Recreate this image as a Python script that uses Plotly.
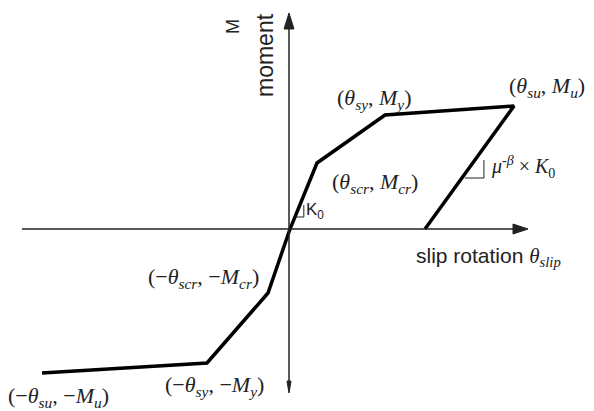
import plotly.graph_objects as go

# slip rotation / moment (origin at axis crossing, 1 unit ~ 1 px)
theta = [-248, -83, -22, 0, 27, 95, 224, 135]
moment = [-144, -134, -64, 0, 66, 114, 123, 0]

# label -> (index of point, xshift, yshift) ; text uses plotly html
point_labels = [
    ("(<i>θ<sub>sy</sub></i>, <i>M<sub>y</sub></i>)", 5, -11, 16, "center"),
    ("(<i>θ<sub>su</sub></i>, <i>M<sub>u</sub></i>)", 6, 33, 19, "center"),
    ("(<i>θ<sub>scr</sub></i>, <i>M<sub>cr</sub></i>)", 4, 58, -20, "center"),
    ("(−<i>θ<sub>scr</sub></i>, −<i>M<sub>cr</sub></i>)", 2, -65, 15, "center"),
    ("(−<i>θ<sub>sy</sub></i>, −<i>M<sub>y</sub></i>)", 1, 7, -23, "center"),
    ("(−<i>θ<sub>su</sub></i>, −<i>M<sub>u</sub></i>)", 0, -36, -24, "left"),
]

x_range = [-290, 304]
y_range = [-182, 229]

fig = go.Figure()

fig.add_trace(go.Scatter(
    x=theta, y=moment,
    mode="lines",
    line=dict(color="black", width=3.5),
    hoverinfo="skip",
    showlegend=False,
))

shapes = []
axis_col = "#222222"
# horizontal axis + arrow head
shapes.append(dict(type="line", x0=-268, y0=0, x1=226, y1=0,
                   line=dict(color=axis_col, width=1.5)))
shapes.append(dict(type="path", path="M 223,5 L 238,0 L 223,-5 Z",
                   fillcolor=axis_col, line=dict(color=axis_col, width=1)))
# vertical axis + arrow heads
shapes.append(dict(type="line", x0=-1, y0=-162, x1=-1, y1=203,
                   line=dict(color=axis_col, width=1.5)))
shapes.append(dict(type="path", path="M -6,200 L -1,216 L 4,200 Z",
                   fillcolor=axis_col, line=dict(color=axis_col, width=1)))
shapes.append(dict(type="path", path="M -3,-152 L -1,-164 L 1,-152 Z",
                   fillcolor=axis_col, line=dict(color=axis_col, width=1)))


def on_seg(i, j, m):
    # theta on segment i->j at moment m
    t = (m - moment[i]) / (moment[j] - moment[i])
    return theta[i] + t * (theta[j] - theta[i])


# K0 slope marker on the first loading branch
m_lo, m_hi = 12, 24
xa, xb = on_seg(3, 4, m_lo), on_seg(3, 4, m_hi)
shapes.append(dict(type="path",
                   path=f"M {xa},{m_lo} L {xb + 4},{m_lo} L {xb + 4},{m_hi}",
                   line=dict(color=axis_col, width=1)))
# unloading slope marker
m_lo, m_hi = 51, 69
xa, xb = on_seg(7, 6, m_lo), on_seg(7, 6, m_hi)
shapes.append(dict(type="path",
                   path=f"M {xa + 3},{m_lo} L {xb + 9},{m_lo} L {xb + 9},{m_hi}",
                   line=dict(color=axis_col, width=1)))

annotations = []
serif = dict(family="Liberation Serif", size=22, color="#222222")
for text, idx, dx, dy, anchor in point_labels:
    annotations.append(dict(x=theta[idx], y=moment[idx], text=text, showarrow=False,
                            xanchor=anchor, yanchor="middle", xshift=dx, yshift=dy,
                            font=serif))

annotations.append(dict(x=theta[3], y=moment[3], text="K<sub>0</sub>", showarrow=False,
                        xanchor="center", yanchor="middle", xshift=25, yshift=18,
                        font=dict(family="Liberation Sans", size=17, color="#222222")))
annotations.append(dict(x=theta[7], y=moment[7],
                        text="<i>μ</i><sup>-<i>β</i></sup> × <i>K</i><sub>0</sub>",
                        showarrow=False, xanchor="center", yanchor="middle",
                        xshift=98, yshift=62, font=dict(family="Liberation Serif", size=20, color="#222222")))
annotations.append(dict(x=198, y=-28,
                        text="slip rotation <span style='font-family:Liberation Serif'><i>θ<sub>slip</sub></i></span>",
                        showarrow=False, xanchor="center", yanchor="middle",
                        font=dict(family="Liberation Sans", size=21, color="#222222")))
annotations.append(dict(x=-57, y=202, text="M", textangle=-90, showarrow=False,
                        xanchor="center", yanchor="middle",
                        font=dict(family="Liberation Sans", size=18, color="#222222")))
annotations.append(dict(x=-25, y=174, text="moment", textangle=-90, showarrow=False,
                        xanchor="center", yanchor="middle",
                        font=dict(family="Liberation Sans", size=23, color="#222222")))

fig.update_layout(
    width=594, height=411,
    margin=dict(l=0, r=0, t=0, b=0),
    paper_bgcolor="white", plot_bgcolor="white",
    xaxis=dict(range=x_range, visible=False, fixedrange=True),
    yaxis=dict(range=y_range, visible=False, fixedrange=True),
    shapes=shapes,
    annotations=annotations,
    showlegend=False,
)

fig.write_html("out.html", config={"displayModeBar": False},
               post_script="document.body.style.margin='0px';")
